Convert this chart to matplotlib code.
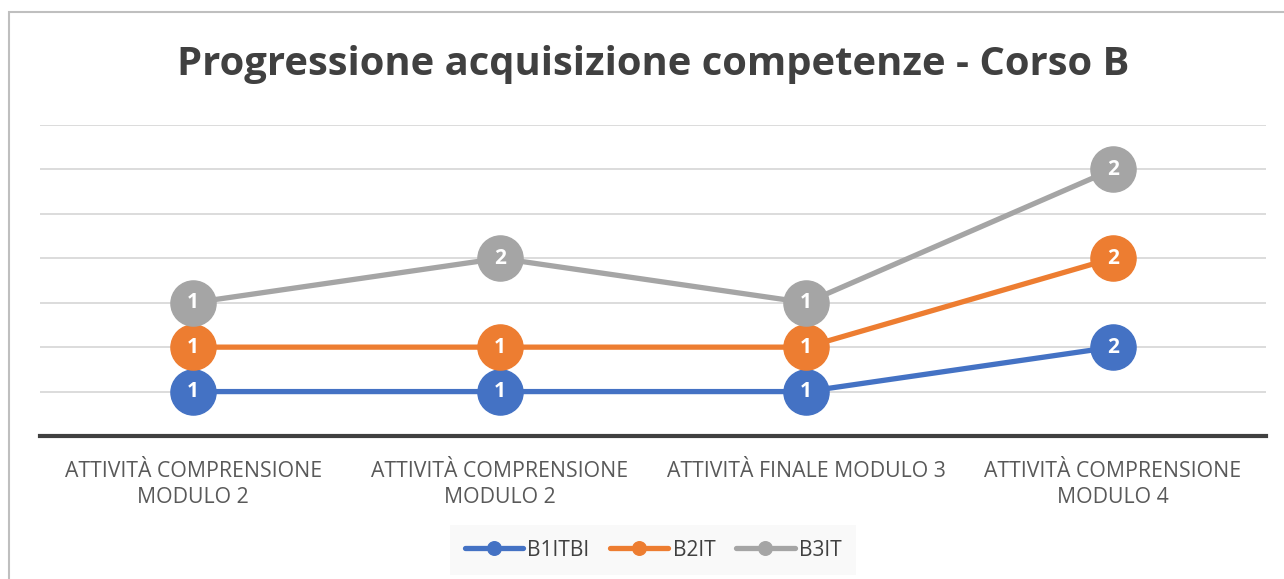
import matplotlib.pyplot as plt
import numpy as np
from matplotlib.patches import Rectangle

categories = ['ATTIVITÀ COMPRENSIONE\nMODULO 2', 'ATTIVITÀ COMPRENSIONE\nMODULO 2',
              'ATTIVITÀ FINALE MODULO 3', 'ATTIVITÀ COMPRENSIONE\nMODULO 4']
series_names = ['B1ITBI', 'B2IT', 'B3IT']
b1itbi = [1, 1, 1, 2]
b2it = [1, 1, 1, 2]
b3it = [1, 2, 1, 2]
colors = ['#4472C4', '#ED7D31', '#A5A5A5']

plt.rcParams['font.family'] = ['Open Sans', 'DejaVu Sans']

fig = plt.figure(figsize=(12.84, 5.79), dpi=100)
# chart border
fig.patches.append(Rectangle((9/1284, -0.01), 1.02, (579-12)/579 + 0.01, transform=fig.transFigure,
                             fill=False, edgecolor='#BFBFBF', linewidth=1.5))
ax = fig.add_axes([40/1284, (579-436)/579, (1266-40)/1284, (436-125)/579])

x = np.arange(len(categories))
bottom = np.zeros(len(categories))
for name, vals, c in zip(series_names, [b1itbi, b2it, b3it], colors):
    top = bottom + np.array(vals)
    ax.plot(x, top, color=c, linewidth=3.8, marker='o', markersize=32.5,
            solid_capstyle='round', label=name, zorder=3)
    for xi, yi, v in zip(x, top, vals):
        ax.text(xi, yi, str(v), color='white', fontsize=15, fontweight='bold',
                ha='center', va='center', zorder=4)
    bottom = top

ax.set_xlim(-0.5, len(categories) - 0.5)
ax.set_ylim(0, 7)
ax.set_yticks(range(1, 8))
ax.yaxis.grid(True, color='#D9D9D9', linewidth=1.3)
ax.set_axisbelow(True)
ax.tick_params(axis='y', left=False, labelleft=False)
ax.tick_params(axis='x', length=0, labelsize=15.3, labelcolor='#595959', pad=18)
ax.set_xticks(x)
ax.set_xticklabels(categories, linespacing=1.3)
for s in ['top', 'right', 'left']:
    ax.spines[s].set_visible(False)
ax.spines['bottom'].set_color('#404040')
ax.spines['bottom'].set_linewidth(3)

fig.text(653/1284, 1 - 64/579, 'Progressione acquisizione competenze - Corso B',
         ha='center', va='center', fontsize=28.8, fontweight='bold', color='#404040')

leg = fig.legend(loc='center', bbox_to_anchor=(653/1284, 1 - 550/579), ncol=3,
                 frameon=True, fontsize=15, markerscale=0.3, handlelength=2.8,
                 columnspacing=1.0, handletextpad=0.2)
leg.get_frame().set_facecolor('#F8F8F8')
leg.get_frame().set_edgecolor('none')
leg.get_frame().set_boxstyle('square', pad=0.3)
for t in leg.get_texts():
    t.set_color('#404040')

fig.savefig('out.png', dpi=100)
